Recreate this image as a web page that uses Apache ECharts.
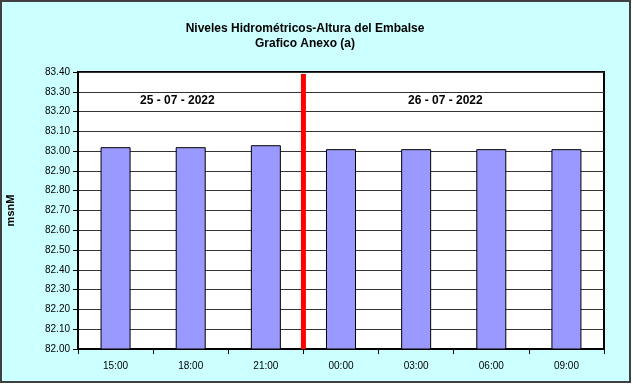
<!DOCTYPE html>
<html>
<head>
<meta charset="utf-8">
<script src="https://cdn.jsdelivr.net/npm/echarts@6/dist/echarts.min.js"></script>
<style>
html,body{margin:0;padding:0;background:#ffffff;}
#c{width:633px;height:385px;}
</style>
</head>
<body>
<div id="c"></div>
<script>
var categories = ['15:00', '18:00', '21:00', '00:00', '03:00', '06:00', '09:00'];
var levels = [83.02, 83.02, 83.03, 83.01, 83.01, 83.01, 83.01];
var dayLabels = ['25 - 07 - 2022', '26 - 07 - 2022'];
var dividerPos = 3; // boundary between 21:00 and 00:00 (category units)
var yMin = 82.0, yMax = 83.4, yStep = 0.1;

var chart = echarts.init(document.getElementById('c'), null, {renderer: 'canvas'});
var font = '"Liberation Sans", Arial, sans-serif';
chart.setOption({
  backgroundColor: 'transparent',
  animation: false,
  graphic: [
    {type: 'rect', shape: {x: 1, y: 1, width: 629, height: 381},
     style: {fill: '#CCFFFF', stroke: '#404040', lineWidth: 2}, z: -10},
    {type: 'text', left: 140, top: 95,
     style: {text: dayLabels[0], font: 'bold 12px ' + font, fill: '#000'}, z: 10},
    {type: 'text', left: 408, top: 95,
     style: {text: dayLabels[1], font: 'bold 12px ' + font, fill: '#000'}, z: 10}
  ],
  title: {
    text: 'Niveles Hidrométricos-Altura del Embalse\nGrafico Anexo (a)',
    left: 300, top: 16, textAlign: 'center',
    textStyle: {fontFamily: font, fontSize: 12, fontWeight: 'bold', color: '#000', lineHeight: 15}
  },
  grid: {left: 78, top: 72, right: 29, bottom: 36, show: true, backgroundColor: '#fff',
         borderColor: '#000', borderWidth: 2, containLabel: false, outerBoundsMode: 'none'},
  xAxis: [{
    type: 'category', data: categories, boundaryGap: true,
    axisLine: {lineStyle: {color: '#000', width: 2}},
    axisTick: {show: true, length: 5, lineStyle: {color: '#000'}, alignWithLabel: false},
    axisLabel: {fontFamily: font, fontSize: 10, color: '#000', margin: 12},
    splitLine: {show: false}
  }, {
    type: 'value', min: 0, max: categories.length, show: false
  }],
  yAxis: {
    type: 'value', min: yMin, max: yMax, interval: yStep,
    name: 'msnM', nameLocation: 'middle', nameGap: 62, nameRotate: 90,
    nameTextStyle: {fontFamily: font, fontSize: 11, fontWeight: 'bold', color: '#000'},
    axisLine: {show: true, lineStyle: {color: '#000', width: 2}},
    axisTick: {show: true, length: 5, lineStyle: {color: '#000'}},
    axisLabel: {fontFamily: font, fontSize: 10, color: '#000', margin: 8,
                formatter: function (v) { return v.toFixed(2); }},
    splitLine: {show: true, lineStyle: {color: '#333', width: 1}}
  },
  series: [{
    type: 'bar', data: levels, barWidth: 30,
    itemStyle: {color: '#9999FF', borderColor: '#000', borderWidth: 1},
    z: 2
  }, {
    type: 'line', xAxisIndex: 1,
    data: [[dividerPos, yMin], [dividerPos, yMax - 0.01]],
    symbol: 'none', lineStyle: {color: '#FF0000', width: 5}, z: 5
  }]
});
</script>
</body>
</html>
